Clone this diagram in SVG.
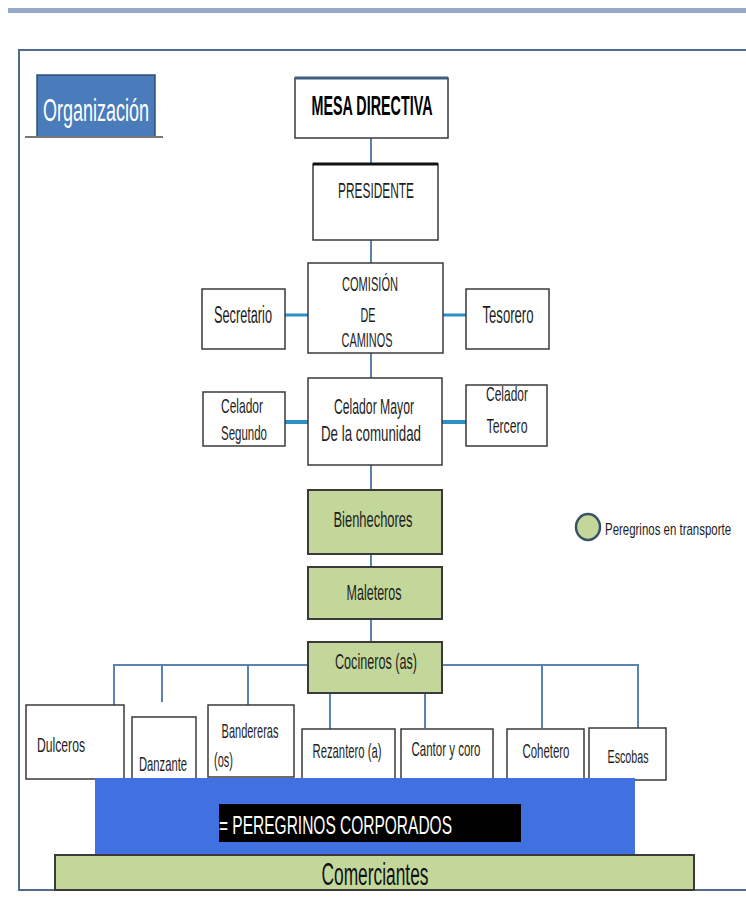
<svg xmlns="http://www.w3.org/2000/svg" width="746" height="913" viewBox="0 0 746 913">
<style>
.box{fill:#ffffff;stroke:#3a3a3a;stroke-width:1.5}
.g{fill:#c4d79b;stroke:#3a3a3a;stroke-width:2}
.t{font-family:"Liberation Sans",Arial,sans-serif;font-size:21px;fill:#1e1e1e}
.c{text-anchor:middle}
.ln{stroke:#5a84b0;stroke-width:2;fill:none}
.th{stroke:#2f8fc4;stroke-width:4;fill:none}
</style>
<rect x="0" y="0" width="746" height="913" fill="#ffffff"/>
<g id="frame">
<rect x="8" y="8" width="738" height="5" fill="#94a9c9"/>
<polyline points="746,50 19,50 19,890 746,890" fill="none" stroke="#4f6b8d" stroke-width="2"/>
</g>
<g id="organizacion">
<rect x="37" y="75" width="118" height="62" fill="#4a7cbc" stroke="#2f4f72" stroke-width="1.5"/>
<line x1="25" y1="137" x2="163" y2="137" stroke="#777" stroke-width="2"/>
<text x="96" y="121" class="t c" style="font-size:31px;fill:#ffffff" textLength="106" lengthAdjust="spacingAndGlyphs">Organización</text>
</g>
<g id="connectors">
<line class="ln" x1="371" y1="138" x2="371" y2="163"/>
<line class="ln" x1="371" y1="240" x2="371" y2="263"/>
<line class="th" x1="285" y1="315" x2="308" y2="315" style="stroke-width:3"/>
<line class="th" x1="443" y1="315" x2="466" y2="315" style="stroke-width:3"/>
<line class="ln" x1="371" y1="353" x2="371" y2="378"/>
<line class="th" x1="285" y1="422" x2="308" y2="422"/>
<line class="th" x1="442" y1="422" x2="466" y2="422"/>
<line class="ln" x1="371" y1="465" x2="371" y2="490"/>
<line class="ln" x1="371" y1="554" x2="371" y2="567"/>
<line class="ln" x1="371" y1="619" x2="371" y2="642"/>
<polyline class="ln" points="114,705 114,665 308,665"/>
<line class="ln" x1="162" y1="665" x2="162" y2="702"/>
<line class="ln" x1="248" y1="665" x2="248" y2="705"/>
<polyline class="ln" points="442,665 638,665 638,728"/>
<line class="ln" x1="542" y1="665" x2="542" y2="728"/>
<line class="ln" x1="330" y1="693" x2="330" y2="729"/>
<line class="ln" x1="425" y1="693" x2="425" y2="728"/>
</g>
<g id="mesa-directiva">
<rect class="box" x="295" y="78" width="153" height="60"/>
<line x1="295" y1="78" x2="448" y2="78" stroke="#3d5f86" stroke-width="3"/>
<text x="372" y="115" class="t c" style="font-size:27px;font-weight:bold;fill:#000" textLength="121" lengthAdjust="spacingAndGlyphs">MESA DIRECTIVA</text>
</g>
<g id="presidente">
<rect class="box" x="313" y="164" width="125" height="76"/>
<line x1="313" y1="164" x2="438" y2="164" stroke="#111" stroke-width="3"/>
<text x="376" y="198" class="t c" style="font-size:22px" textLength="76" lengthAdjust="spacingAndGlyphs">PRESIDENTE</text>
</g>
<g id="comision">
<rect class="box" x="308" y="263" width="135" height="90"/>
<text x="370" y="291" class="t c" style="font-size:20px" textLength="56" lengthAdjust="spacingAndGlyphs">COMISIÓN</text>
<text x="368" y="322" class="t c" style="font-size:20px" textLength="15" lengthAdjust="spacingAndGlyphs">DE</text>
<text x="367" y="347" class="t c" style="font-size:20px" textLength="51" lengthAdjust="spacingAndGlyphs">CAMINOS</text>
</g>
<g id="secretario">
<rect class="box" x="202" y="289" width="83" height="60"/>
<text x="243" y="323" class="t c" style="font-size:23px" textLength="58" lengthAdjust="spacingAndGlyphs">Secretario</text>
</g>
<g id="tesorero">
<rect class="box" x="466" y="289" width="83" height="60"/>
<text x="508" y="323" class="t c" style="font-size:23px" textLength="51" lengthAdjust="spacingAndGlyphs">Tesorero</text>
</g>
<g id="celador-mayor">
<rect class="box" x="308" y="378" width="134" height="87"/>
<text x="374" y="414" class="t c" style="font-size:22px" textLength="80" lengthAdjust="spacingAndGlyphs">Celador Mayor</text>
<text x="371" y="441" class="t c" style="font-size:22px" textLength="100" lengthAdjust="spacingAndGlyphs">De la comunidad</text>
</g>
<g id="celador-segundo">
<rect class="box" x="203" y="392" width="82" height="54"/>
<text x="221" y="413" class="t" textLength="42" lengthAdjust="spacingAndGlyphs">Celador</text>
<text x="221" y="440" class="t" textLength="46" lengthAdjust="spacingAndGlyphs">Segundo</text>
</g>
<g id="celador-tercero">
<rect class="box" x="466" y="385" width="81" height="61"/>
<text x="507" y="401" class="t c" textLength="42" lengthAdjust="spacingAndGlyphs">Celador</text>
<text x="507" y="433" class="t c" textLength="41" lengthAdjust="spacingAndGlyphs">Tercero</text>
</g>
<g id="bienhechores">
<rect class="g" x="308" y="490" width="134" height="64"/>
<text x="373" y="527" class="t c" style="font-size:22px" textLength="79" lengthAdjust="spacingAndGlyphs">Bienhechores</text>
</g>
<g id="maleteros">
<rect class="g" x="308" y="567" width="134" height="52"/>
<text x="374" y="600" class="t c" style="font-size:22px" textLength="55" lengthAdjust="spacingAndGlyphs">Maleteros</text>
</g>
<g id="cocineros">
<rect class="g" x="308" y="642" width="134" height="51"/>
<text x="376" y="669" class="t c" style="font-size:22px" textLength="82" lengthAdjust="spacingAndGlyphs">Cocineros (as)</text>
</g>
<g id="legend">
<ellipse cx="588" cy="527" rx="12" ry="13" fill="#c4d79b" stroke="#3b5166" stroke-width="2.5"/>
<text transform="translate(605,535) scale(0.716,1)" x="0" y="0" class="t" style="font-size:16px">Peregrinos en transporte</text>
</g>
<g id="dulceros">
<rect class="box" x="26" y="705" width="98" height="74"/>
<text transform="translate(37,752) scale(0.608,1)" x="0" y="0" class="t" style="font-size:20px">Dulceros</text>
</g>
<g id="danzante">
<rect class="box" x="132" y="717" width="64" height="62"/>
<text transform="translate(163,771) scale(0.561,1)" x="0" y="0" class="t c" style="font-size:20px">Danzante</text>
</g>
<g id="bandereras">
<rect class="box" x="208" y="705" width="86" height="72"/>
<text transform="translate(250,738) scale(0.551,1)" x="0" y="0" class="t c" style="font-size:20px">Bandereras</text>
<text transform="translate(214,767) scale(0.552,1)" x="0" y="0" class="t" style="font-size:20px">(os)</text>
</g>
<g id="rezantero">
<rect class="box" x="302" y="729" width="93" height="51"/>
<text transform="translate(347,758) scale(0.564,1)" x="0" y="0" class="t c" style="font-size:20px">Rezantero (a)</text>
</g>
<g id="cantor">
<rect class="box" x="401" y="729" width="92" height="51"/>
<text transform="translate(446,756) scale(0.575,1)" x="0" y="0" class="t c" style="font-size:20px">Cantor y coro</text>
</g>
<g id="cohetero">
<rect class="box" x="507" y="729" width="77" height="51"/>
<text transform="translate(546,758) scale(0.571,1)" x="0" y="0" class="t c" style="font-size:20px">Cohetero</text>
</g>
<g id="escobas">
<rect class="box" x="589" y="728" width="77" height="52"/>
<text transform="translate(628,763) scale(0.562,1)" x="0" y="0" class="t c" style="font-size:19px">Escobas</text>
</g>
<g id="peregrinos-corporados">
<rect x="95" y="778" width="540" height="77" fill="#4170e0"/>
<rect x="219" y="804" width="302" height="38" fill="#000000"/>
<text x="219" y="834" class="t" style="font-size:25px;fill:#ffffff" textLength="233" lengthAdjust="spacingAndGlyphs">= PEREGRINOS CORPORADOS</text>
</g>
<g id="comerciantes">
<rect x="55" y="855" width="639" height="35" fill="#c4d79b" stroke="#3a3a3a" stroke-width="2"/>
<text x="375" y="885" class="t c" style="font-size:31px;fill:#111" textLength="107" lengthAdjust="spacingAndGlyphs">Comerciantes</text>
</g>
</svg>
